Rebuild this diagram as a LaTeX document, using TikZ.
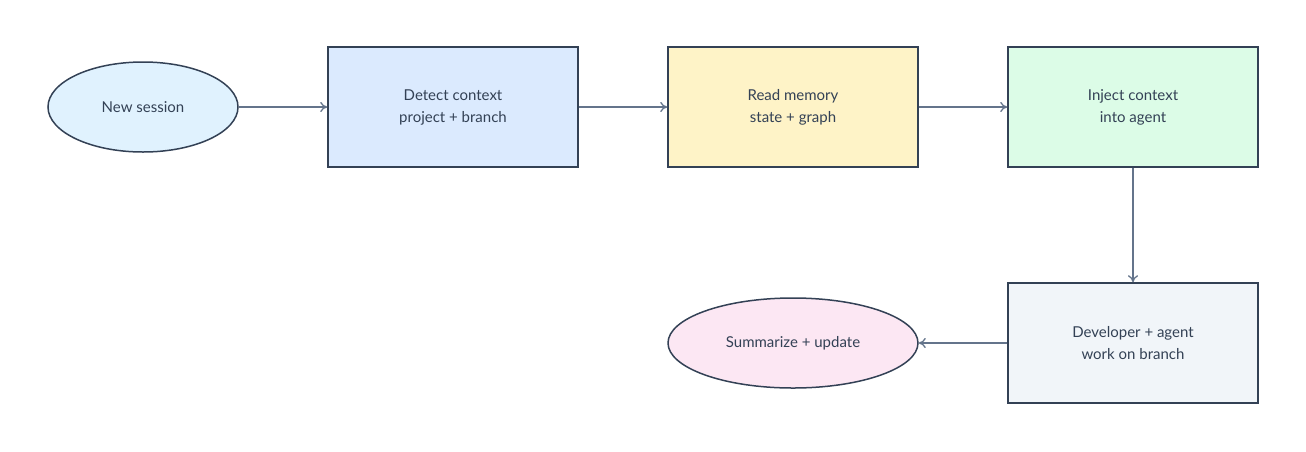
\documentclass[tikz,border=0pt]{standalone}
\usepackage{fontspec}
\setmainfont{Lato}
\usetikzlibrary{arrows.meta,positioning,shapes.geometric}
\definecolor{edgeline}{HTML}{334155}
\definecolor{arrowline}{HTML}{64748B}
\definecolor{sessionfill}{HTML}{E0F2FE}
\definecolor{detectfill}{HTML}{DBEAFE}
\definecolor{readfill}{HTML}{FEF3C7}
\definecolor{injectfill}{HTML}{DCFCE7}
\definecolor{devfill}{HTML}{F1F5F9}
\definecolor{sumfill}{HTML}{FCE7F3}
\tikzset{
  stepbox/.style={draw=edgeline, line width=1.5pt, minimum width=250pt, minimum height=120pt,
    align=center, text=edgeline, font=\fontsize{15}{22}\selectfont},
  endpoint/.style={ellipse, draw=edgeline, line width=1.5pt, minimum height=90pt,
    align=center, text=edgeline, font=\fontsize{15}{22}\selectfont},
  flow/.style={-{To[length=7pt,width=10pt]}, draw=arrowline, line width=1.3pt}
}
\begin{document}
\begin{tikzpicture}[x=1pt,y=-1pt]
  \useasboundingbox (0,0) rectangle (1306,451);
  \node[endpoint, fill=sessionfill, minimum width=190pt] (session) at (143,107) {New session};
  \node[stepbox, fill=detectfill] (detect) at (453,107) {Detect context\\project + branch};
  \node[stepbox, fill=readfill] (read) at (793,107) {Read memory\\state + graph};
  \node[stepbox, fill=injectfill] (inject) at (1133,107) {Inject context\\into agent};
  \node[stepbox, fill=devfill] (dev) at (1133,343) {Developer + agent\\work on branch};
  \node[endpoint, fill=sumfill, minimum width=250pt] (summary) at (793,343) {Summarize + update};
  \draw[flow] (session) -- (detect);
  \draw[flow] (detect) -- (read);
  \draw[flow] (read) -- (inject);
  \draw[flow] (inject) -- (dev);
  \draw[flow] (dev) -- (summary);
\end{tikzpicture}
\end{document}
